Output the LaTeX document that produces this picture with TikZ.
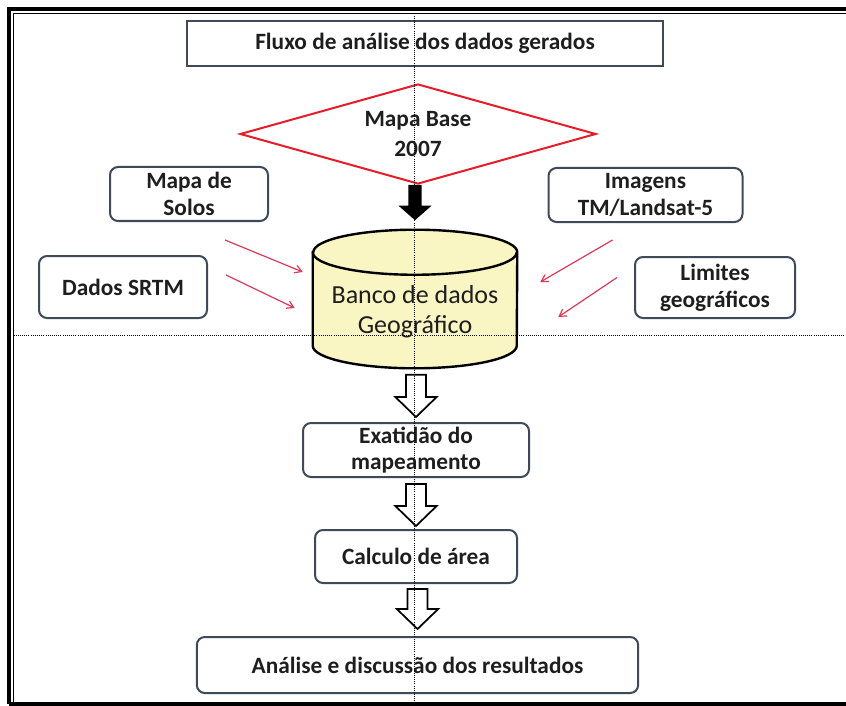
\documentclass[tikz,border=0pt]{standalone}
\usepackage{fontspec}
\setmainfont{Carlito}
\usetikzlibrary{arrows.meta,calc}
\definecolor{boxline}{RGB}{62,74,90}
\definecolor{mapred}{RGB}{232,28,40}
\definecolor{feedred}{RGB}{218,58,88}
\definecolor{dbyellow}{RGB}{250,246,196}
\definecolor{ink}{RGB}{30,30,30}
\usetikzlibrary{shapes.geometric}
\tikzset{
        flowbox/.style={draw=boxline, line width=1.5pt, rounded corners=6pt, align=center, inner sep=0pt,
          text=ink, font=\fontsize{17.5}{20}\selectfont\bfseries},
        titlebox/.style={flowbox, rounded corners=0pt},
        basemap/.style={diamond, draw=mapred, line width=1.5pt, aspect=3.56, inner sep=0pt, align=center,
          text=ink, font=\fontsize{17.5}{22.5}\selectfont\bfseries},
        dbbody/.style={inner sep=0pt},
        dbshape/.style={draw=black, line width=1.8pt, fill=dbyellow},
        dbtext/.style={align=center, inner sep=0pt, text=ink, font=\fontsize{19.5}{22.5}\selectfont},
        feed/.style={draw=feedred, line width=0.9pt, -{Straight Barb[length=5pt,width=6pt]}},
        hollowarr/.style={draw=black, line width=1.3pt, fill=white, line join=miter},
        blackarr/.style={fill=black},
        guide/.style={densely dotted, line width=0.6pt}
          }
% fat arrow: style, from, to, half shaft, half head, head length
\newcommand{\fatarrow}[6]{%
  \path[#1] let \p1=(#2), \p2=(#3) in
    (\x2-#4,\y1) -- (\x2-#4,\y2+#6) -- (\x2-#5,\y2+#6) -- (\p2)
    -- (\x2+#5,\y2+#6) -- (\x2+#4,\y2+#6) -- (\x2+#4,\y1) -- cycle;}

\begin{document}
\begin{tikzpicture}[x=0.75pt,y=-0.75pt]
        \useasboundingbox (0,0) rectangle (846,706);
        % frame
        \draw[line width=3pt] (9,704) -- (9,9) -- (850,9);
        \draw[line width=1.1pt] (13.5,704) -- (13.5,13.5) -- (850,13.5);
        \draw[line width=3pt] (9,704) -- (850,704);

        \node[titlebox, minimum width=357pt, minimum height=33.75pt] (title) at (425,43.5)
          {Fluxo de análise dos dados gerados};
        \node[basemap, minimum width=267pt, minimum height=75pt] (base) at (418,134) {Mapa Base\\2007};

        \node[flowbox, minimum width=118.5pt, minimum height=40.5pt] (solos) at (189,194) {Mapa de\\Solos};
        \node[flowbox, minimum width=145.5pt, minimum height=40.5pt] (imagens) at (645.5,195) {Imagens\\TM/Landsat-5};
        \node[flowbox, minimum width=126pt, minimum height=46.5pt] (srtm) at (123,287) {Dados SRTM};
        \node[flowbox, minimum width=120pt, minimum height=45.75pt] (limites) at (715,287.5) {Limites\\geográficos};

        % database drum
        \node[dbbody, minimum width=153pt, minimum height=69.75pt] (db) at (415,299) {};
        \filldraw[dbshape] (db.north west) -- (db.south west)
          arc[start angle=180, end angle=360, x radius=76.5pt, y radius=16.9pt] -- (db.north east)
          arc[start angle=0, end angle=180, x radius=76.5pt, y radius=16.9pt] -- cycle;
        \draw[dbshape, fill=none] (db.north west)
          arc[start angle=180, end angle=360, x radius=76.5pt, y radius=16.9pt];
        \node[dbtext] (dblabel) at ($(db.center)+(0,13)$) {Banco de dados\\Geográfico};

        \node[flowbox, minimum width=169.5pt, minimum height=40.5pt] (exat) at (416,450) {Exatidão do\\mapeamento};
        \node[flowbox, minimum width=151.5pt, minimum height=39.75pt] (calc) at (416,556.5) {Calculo de área};
        \node[flowbox, minimum width=331pt, minimum height=42pt] (analise) at (417.5,665)
          {Análise e discussão dos resultados};

        % inputs to the database
        \draw[feed] ($(solos.south)+(36,18)$) -- ($(db.west)+(-10,-27)$);
        \draw[feed] ($(srtm.east)+(18,-12)$) -- ($(db.west)+(-18,9)$);
        \draw[feed] ($(imagens.south)+(-33,17)$) -- ($(db.east)+(23,-17)$);
        \draw[feed] ($(limites.west)+(-17,-10)$) -- ($(db.east)+(41,18)$);

        % main flow
        \coordinate (b1) at (base.south);
        \coordinate (b2) at ($(db.north)+(0,-32)$);
        \fatarrow{blackarr}{b1}{b2}{5pt}{12.5pt}{11pt}
        \coordinate (h1) at ($(db.south)+(0,29)$);
        \coordinate (h2) at ($(exat.north)+(0,-5)$);
        \fatarrow{hollowarr}{h1}{h2}{7.5pt}{15.5pt}{15pt}
        \coordinate (h3) at ($(exat.south)+(0,6)$);
        \coordinate (h4) at ($(calc.north)+(0,-3)$);
        \fatarrow{hollowarr}{h3}{h4}{7.5pt}{15.5pt}{15pt}
        \coordinate (h5) at ($(calc.south)+(0,5)$);
        \coordinate (h6) at ($(analise.north)+(0,-7)$);
        \fatarrow{hollowarr}{h5}{h6}{7.5pt}{15.5pt}{15pt}

        % guide lines
        \draw[guide] (414,13.5) -- (414,706);
        \draw[guide] (13.5,335) -- (846,335);
\end{tikzpicture}
\end{document}
